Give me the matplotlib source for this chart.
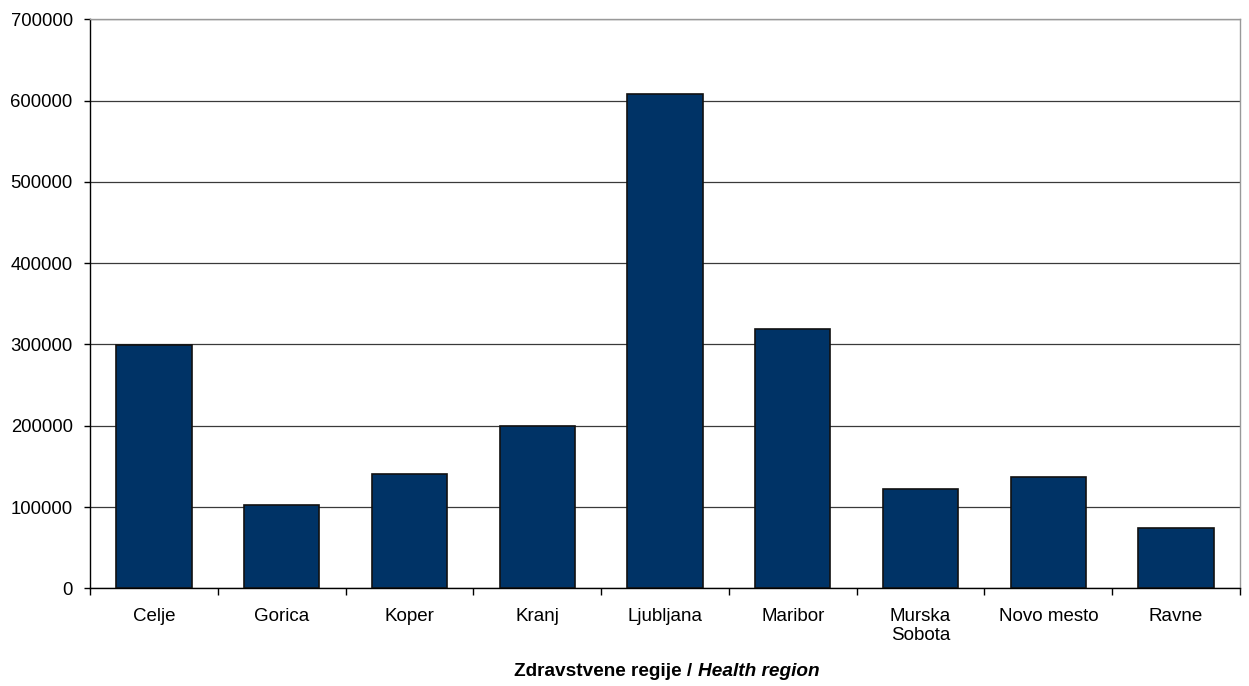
import numpy as np
import matplotlib
matplotlib.use("Agg")
import matplotlib.pyplot as plt

plt.rcParams['font.family'] = ['Liberation Sans', 'DejaVu Sans']

regions = ["Celje", "Gorica", "Koper", "Kranj", "Ljubljana", "Maribor",
           "Murska\nSobota", "Novo mesto", "Ravne"]
population = [299000, 103000, 140600, 199600, 608400, 319500, 122500, 136900, 74200]
y_ticks = [0, 100000, 200000, 300000, 400000, 500000, 600000, 700000]

fig = plt.figure(figsize=(12.49, 6.86), dpi=100)
ax = fig.add_axes([0.0721, 0.1424, 0.9207, 0.8295])

x = np.arange(len(regions))
ax.bar(x, population, width=0.59, color="#003366", edgecolor="#111111",
       linewidth=1.2, zorder=3)

ax.set_xlim(-0.5, len(regions) - 0.5)
ax.set_ylim(0, 700000)
ax.set_yticks(y_ticks)
ax.set_yticklabels([str(v) for v in y_ticks])
ax.yaxis.grid(True, color="#3a3a3a", linewidth=0.9, zorder=0)

ax.set_xticks(x)
ax.set_xticklabels(regions)
ax.set_xticks(np.arange(len(regions) + 1) - 0.5, minor=True)
ax.tick_params(axis="x", which="major", length=0, pad=14, labelsize=13.5)
ax.tick_params(axis="x", which="minor", length=5, width=1, direction="out")
ax.tick_params(axis="y", length=4.5, width=1, pad=8, labelsize=13.3)

for s in ["left", "bottom"]:
    ax.spines[s].set_color("black")
    ax.spines[s].set_linewidth(1)
for s in ["top", "right"]:
    ax.spines[s].set_color("#999999")
    ax.spines[s].set_linewidth(1)

t1 = fig.text(0.5585, 0.0146, "Zdravstvene regije / ", fontsize=13.7,
              fontweight="bold", ha="right", va="baseline")
ax.annotate("Health region", xy=(1, 0), xycoords=t1, fontsize=13.7,
            fontweight="bold", fontstyle="italic", ha="left", va="bottom")

fig.savefig("out.png", dpi=100)
